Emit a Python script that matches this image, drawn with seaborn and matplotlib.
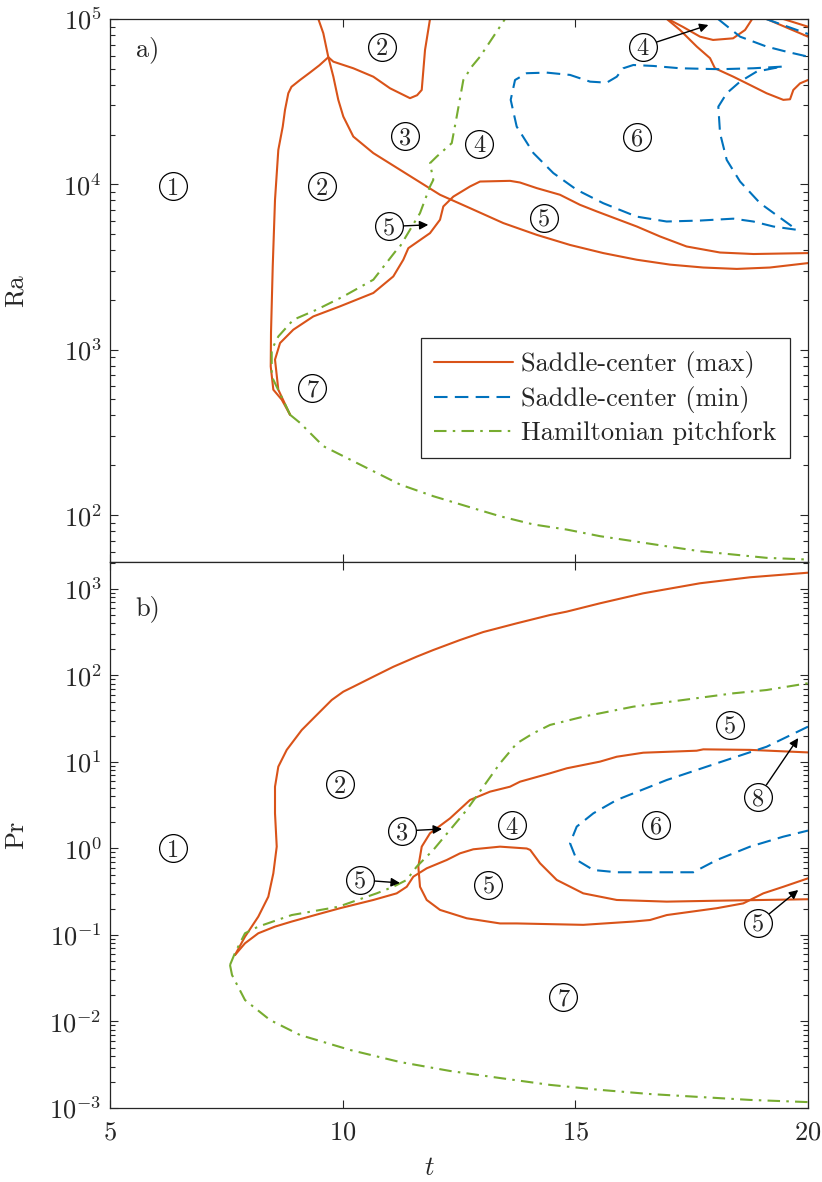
import numpy as np
import pandas as pd
import matplotlib
matplotlib.use("Agg")
import matplotlib.pyplot as plt
import seaborn as sns
from matplotlib.lines import Line2D
from matplotlib.ticker import LogLocator, LogFormatterMathtext, NullFormatter, FixedLocator

# ---------------- data: panel a) (t, Ra) ----------------
a_max1_t = [8.87, 8.69, 8.51, 8.454, 8.46, 8.497, 8.546, 8.617, 8.712, 8.761, 8.832, 8.90, 9.083, 9.30,
            9.50, 9.692, 9.80, 10.229, 10.659, 11.018, 11.447, 11.60, 11.699, 11.77, 11.877]
a_max1_v = [404, 499, 573, 792, 1268, 3186, 8058, 16150, 22340, 28200, 35560, 38900, 42760, 47500,
            52500, 58750, 55200, 50350, 44770, 38100, 33200, 34600, 37240, 65000, 100000]

a_max2_t = [9.477, 9.584, 9.692, 9.80, 9.906, 10.014, 10.229, 10.659, 11.232, 11.806, 12.092, 12.737,
            13.453, 14.17, 14.886, 15.60, 16.32, 17.035, 17.75, 18.47, 19.18, 20.0]
a_max2_v = [100000, 82000, 58750, 44770, 32430, 25700, 19450, 15450, 12250, 9710, 8650, 7180,
            5830, 4950, 4300, 3840, 3500, 3270, 3140, 3080, 3140, 3340]

a_max3_t = [8.87, 8.617, 8.546, 8.654, 8.939, 9.369, 9.943, 10.659, 11.088, 11.303, 11.411, 11.877,
            12.092, 12.163, 12.378, 12.737, 12.952, 13.597, 13.81, 14.17, 14.67, 15.10, 15.46, 16.32,
            16.82, 17.39, 18.11, 18.83, 20.0]
a_max3_v = [404, 573, 871, 1097, 1321, 1589, 1829, 2203, 2774, 3500, 4110, 5070,
            6110, 7350, 8430, 9710, 10400, 10500, 10260, 9490, 8650, 7520, 6860, 5560,
            4840, 4210, 3870, 3790, 3840]

a_max4_t = [16.965, 17.25, 17.61, 17.895, 18.0, 18.396, 18.754, 19.11, 19.47, 19.614, 19.685, 19.829, 20.0]
a_max4_v = [100000, 85800, 68100, 57950, 50350, 44770, 39900, 35560, 32430, 32700, 37240, 40800, 42760]

a_max5_t = [16.99, 17.315, 17.68, 17.96, 18.39, 18.647, 18.80]
a_max5_v = [100000, 89500, 78200, 74700, 76400, 85800, 100000]

a_max6_t = [19.11, 20.0]
a_max6_v = [100000, 78200]
a_max7_t = [19.47, 20.0]
a_max7_v = [100000, 89800]

a_min1_t = [19.435, 18.825, 18.11, 17.25, 16.676, 16.246, 16.03, 15.89, 15.673, 15.316, 14.886, 14.385,
            13.955, 13.704, 13.611, 13.74, 14.10, 14.527, 15.03, 15.60, 16.318, 16.962, 17.68, 18.396,
            18.825, 19.255, 19.758, 18.97, 18.54, 18.253, 18.11, 18.073, 18.253, 18.54, 18.898, 19.435]
a_min1_v = [51500, 50350, 49700, 50350, 52000, 52700, 50350, 44770, 41200, 41800, 45900, 47400,
            47000, 42760, 32430, 22340, 15450, 11700, 9270, 7690, 6380, 5960, 6040, 6200,
            5960, 5560, 5310, 7690, 10400, 14060, 20370, 29500, 35560, 41800, 48100, 51500]
a_min2_t = [18.067, 18.54, 19.11, 19.54, 20.0]
a_min2_v = [100000, 78200, 68100, 63400, 59200]
a_min3_t = [19.10, 20.0]
a_min3_v = [100000, 81200]

a_pf1_t = [8.87, 8.475, 8.475, 8.617, 8.939, 9.442, 10.014, 10.659, 11.161, 11.232, 11.662, 11.877,
           11.948, 11.877, 12.021, 12.344, 12.451, 12.593, 12.774, 12.952, 13.238, 13.489]
a_pf1_v = [404, 690, 1000, 1202, 1517, 1746, 2099, 2650, 4020, 4210, 6700, 9710,
           10640, 13430, 14720, 17750, 25700, 42760, 51500, 59200, 78200, 100000]
a_pf2_t = [8.87, 9.083, 9.584, 10.373, 11.232, 11.948, 12.666, 13.38, 14.10, 14.815, 15.53, 16.246,
           16.964, 17.68, 18.396, 19.11, 20.0]
a_pf2_v = [404, 361, 261, 202, 153, 130, 113, 98.4, 87.7, 81.7, 74.5, 69.5,
           64.7, 60.4, 57.7, 55.1, 53.8]

# ---------------- data: panel b) (t, Pr) ----------------
b_max1_t = [7.686, 7.901, 8.187, 8.402, 8.51, 8.583, 8.546, 8.546, 8.617, 8.798, 9.12, 9.406, 9.765,
            10.014, 10.229, 10.659, 11.088, 11.591, 11.948, 12.522, 13.023, 13.741, 14.456, 14.815,
            15.531, 16.46, 17.68, 18.754, 20.0]
b_max1_v = [0.0587, 0.0955, 0.163, 0.277, 0.516, 1.05, 2.55, 5.18, 8.83, 13.8, 23.4, 33.4, 52.1,
            65, 74.1, 96.8, 126, 165, 197, 257, 318, 401, 500, 547,
            683, 891, 1164, 1365, 1542]

b_max2_t = [7.686, 7.901, 8.187, 8.546, 8.905, 9.406, 9.943, 10.659, 11.161, 11.377, 11.518, 11.806,
            12.236, 12.522, 12.808, 13.382, 13.955, 14.03, 14.241, 14.60, 15.17, 15.89, 16.965, 18.04, 20.0]
b_max2_v = [0.0587, 0.0802, 0.1047, 0.125, 0.143, 0.170, 0.204, 0.254, 0.303, 0.361, 0.472, 0.590,
            0.736, 0.879, 0.979, 1.05, 1.0, 0.962, 0.675, 0.433, 0.303, 0.254, 0.243, 0.249, 0.259]

b_max3_t = [20.0, 18.754, 17.75, 17.607, 16.46, 15.89, 15.531, 14.815, 14.456, 13.812, 13.597, 13.167,
            12.737, 12.307, 11.877, 11.699, 11.626, 11.662, 11.806, 12.092, 12.666, 13.382, 13.74,
            15.17, 16.246, 16.605, 16.965, 18.04, 18.61, 19.04, 19.47, 20.0]
b_max3_v = [12.9, 13.8, 14.0, 13.5, 12.8, 11.5, 10.1, 8.45, 7.40, 5.92, 5.18, 4.54,
            3.64, 2.23, 1.50, 1.05, 0.617, 0.361, 0.254, 0.195, 0.156, 0.136, 0.136,
            0.131, 0.143, 0.149, 0.170, 0.204, 0.232, 0.303, 0.361, 0.452]

b_min1_t = [20.0, 19.11, 18.04, 16.965, 15.89, 15.387, 15.03, 14.886, 15.03, 15.387, 15.89, 17.535,
            18.04, 18.754, 19.47, 20.0]
b_min1_v = [25.6, 15.0, 9.66, 6.19, 3.64, 2.55, 1.79, 1.15, 0.736, 0.564, 0.531, 0.531,
            0.736, 1.05, 1.37, 1.61]

b_pf1_t = [7.579, 7.686, 7.901, 8.187, 8.905, 9.906, 10.73, 11.088, 11.377, 11.591, 11.948, 12.307,
           12.666, 13.023, 13.382, 13.741, 14.098, 14.456, 15.17, 16.246, 17.32, 18.396, 19.11, 20.0]
b_pf1_v = [0.045, 0.062, 0.1047, 0.125, 0.170, 0.212, 0.303, 0.361, 0.433, 0.617, 0.962, 1.64,
           2.79, 5.18, 9.66, 16.4, 21.5, 26.8, 33.4, 43.6, 52.1, 62.2, 67.9, 81.3]
b_pf2_t = [7.579, 7.622, 7.901, 8.439, 9.083, 10.158, 11.232, 12.307, 13.382, 14.456, 15.531, 16.605,
           17.68, 18.754, 20.0]
b_pf2_v = [0.045, 0.0345, 0.0177, 0.0104, 0.00698, 0.00469, 0.0034, 0.00268, 0.00222, 0.00185,
           0.00162, 0.00145, 0.00134, 0.00124, 0.00117]

# ---------------- region labels ----------------
a_lab_txt = ["1", "2", "2", "3", "4", "6", "5", "5", "7", "4"]
a_lab_t = [6.35, 10.84, 9.55, 11.34, 12.94, 16.32, 14.33, 11.0, 9.35, 16.45]
a_lab_v = [9710, 68100, 9710, 19600, 17580, 19450, 6250, 5560, 587, 68100]
a_arrow_from = [7, 9]
a_arrow_t = [11.84, 17.86]
a_arrow_v = [5690, 92000]

b_lab_txt = ["1", "2", "3", "4", "5", "5", "6", "5", "8", "5", "7"]
b_lab_t = [6.354, 9.943, 11.275, 13.63, 10.37, 13.13, 16.73, 18.32, 18.93, 18.93, 14.74]
b_lab_v = [1.0, 5.57, 1.59, 1.87, 0.433, 0.378, 1.87, 26.8, 3.94, 0.138, 0.0192]
b_arrow_from = [2, 4, 8, 9]
b_arrow_t = [12.135, 11.23, 19.79, 19.79]
b_arrow_v = [1.68, 0.40, 18.9, 0.331]

t_ticks = [5, 10, 15, 20]

# ---------------- style ----------------
C_MAX, C_MIN, C_PF = "#D95319", "#0072BD", "#77AC30"
LS = {"max": "-", "min": (0, (6.5, 3.5)), "pf": (0, (6, 3, 1.2, 3))}
COL = {"max": C_MAX, "min": C_MIN, "pf": C_PF}
LW = 1.5
AXC = "#262626"
FS = 19
FS_LAB = 17.5

sns.set_theme(style="ticks")
plt.rcParams.update({
    "font.family": ["cmr10", "DejaVu Serif"],
    "mathtext.fontset": "cm",
    "axes.formatter.use_mathtext": True,
    "font.size": FS,
    "axes.edgecolor": AXC,
    "axes.linewidth": 0.9,
})

fig = plt.figure(figsize=(8.22, 11.82), dpi=100)
gs = fig.add_gridspec(2, 1, left=110 / 822, right=808 / 822, top=1 - 19 / 1182,
                      bottom=1 - 1108 / 1182, hspace=0, height_ratios=[543, 546])
axa = fig.add_subplot(gs[0])
axb = fig.add_subplot(gs[1], sharex=axa)

curves_a = [(a_max1_t, a_max1_v, "max"), (a_max2_t, a_max2_v, "max"), (a_max3_t, a_max3_v, "max"),
            (a_max4_t, a_max4_v, "max"), (a_max5_t, a_max5_v, "max"), (a_max6_t, a_max6_v, "max"),
            (a_max7_t, a_max7_v, "max"),
            (a_min1_t, a_min1_v, "min"), (a_min2_t, a_min2_v, "min"), (a_min3_t, a_min3_v, "min"),
            (a_pf1_t, a_pf1_v, "pf"), (a_pf2_t, a_pf2_v, "pf")]
curves_b = [(b_max1_t, b_max1_v, "max"), (b_max2_t, b_max2_v, "max"), (b_max3_t, b_max3_v, "max"),
            (b_min1_t, b_min1_v, "min"), (b_pf1_t, b_pf1_v, "pf"), (b_pf2_t, b_pf2_v, "pf")]

for ax, curves in [(axa, curves_a), (axb, curves_b)]:
    for tt, vv, kind in curves:
        df = pd.DataFrame({"t": tt, "v": vv})
        sns.lineplot(data=df, x="t", y="v", sort=False, estimator=None, ax=ax,
                     color=COL[kind], linestyle=LS[kind], lw=LW,
                     solid_joinstyle="round", dash_joinstyle="round")

def add_labels(ax, txt, ts, vs, afrom, at, av):
    ax.plot(ts, vs, ls="none", marker="o", ms=20, mfc="none", mec="black", mew=0.9, zorder=5)
    for s, x, y in zip(txt, ts, vs):
        ax.text(x, y, s, ha="center", va="center_baseline", fontsize=FS_LAB, zorder=6)
    for i, x2, y2 in zip(afrom, at, av):
        ax.annotate("", xy=(x2, y2), xytext=(ts[i], vs[i]),
                    arrowprops=dict(arrowstyle="-|>", color="black", lw=1.0,
                                    mutation_scale=13, shrinkA=10.5, shrinkB=0))

add_labels(axa, a_lab_txt, a_lab_t, a_lab_v, a_arrow_from, a_arrow_t, a_arrow_v)
add_labels(axb, b_lab_txt, b_lab_t, b_lab_v, b_arrow_from, b_arrow_t, b_arrow_v)

for ax in (axa, axb):
    ax.set_yscale("log")
    ax.set_xlim(5, 20)
    ax.xaxis.set_major_locator(FixedLocator(t_ticks))
    ax.yaxis.set_major_locator(LogLocator(base=10, numticks=30))
    ax.yaxis.set_minor_locator(LogLocator(base=10, subs=np.arange(2, 10), numticks=200))
    ax.yaxis.set_major_formatter(LogFormatterMathtext())
    ax.yaxis.set_minor_formatter(NullFormatter())
    ax.tick_params(which="both", direction="in", top=True, right=True, color=AXC, width=0.8)
    ax.tick_params(which="major", length=6, labelsize=FS)
    ax.tick_params(which="minor", length=3.5)
    ax.tick_params(axis="y", pad=6)
    ax.tick_params(axis="x", pad=9)
    for sp in ax.spines.values():
        sp.set_visible(True)
        sp.set_color(AXC)

axa.set_ylim(52, 1e5)
axb.set_ylim(1e-3, 2050)
axa.tick_params(axis="x", labelbottom=False)
axa.set_xlabel("")
axa.set_ylabel("Ra", fontsize=FS)
axb.set_ylabel("Pr", fontsize=FS)
axb.set_xlabel("$t$", fontsize=FS)
axa.yaxis.set_label_coords(-0.1175, 0.5)
axb.yaxis.set_label_coords(-0.1175, 0.5)
axb.xaxis.set_label_coords(0.458, -0.088)

axa.text(0.054, 0.950, "a)", transform=axa.transAxes, ha="center", va="center_baseline", fontsize=FS)
axb.text(0.054, 0.921, "b)", transform=axb.transAxes, ha="center", va="center_baseline", fontsize=FS)

handles = [Line2D([], [], color=C_MAX, ls=LS["max"], lw=LW),
           Line2D([], [], color=C_MIN, ls=LS["min"], lw=LW),
           Line2D([], [], color=C_PF, ls=LS["pf"], lw=LW)]
labels = ["Saddle-center (max)", "Saddle-center (min)", "Hamiltonian pitchfork"]
leg = axa.legend(handles, labels, loc="upper right", bbox_to_anchor=(0.974, 0.4125),
                 fontsize=FS, frameon=True, fancybox=False, framealpha=1, edgecolor=AXC,
                 handlelength=3.0, handletextpad=0.3, labelspacing=0.3, borderpad=0.5,
                 borderaxespad=0)
leg.get_frame().set_linewidth(0.9)

fig.savefig("out.png", dpi=100)
